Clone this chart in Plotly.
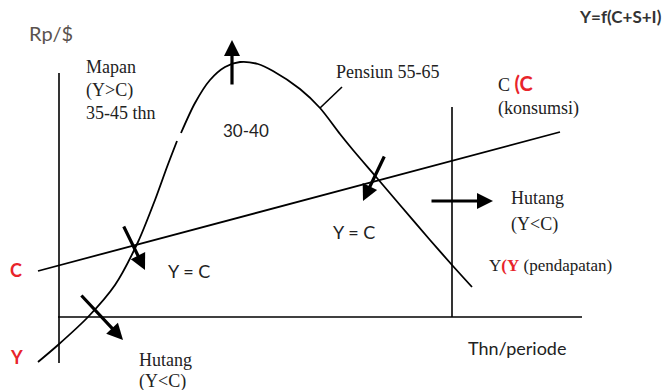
import plotly.graph_objects as go

# Pendapatan (Y) sepanjang siklus hidup, koordinat (px)
income_x = [38, 58, 88, 115, 138, 155, 167, 177, None, 181, 195, 210, 225, 240, 258, 273, 300, 320, 340, 353, 377, 400, 430, 452, 472]
income_y = [362, 345, 317, 285, 242, 200, 167, 141, None, 133, 103, 80, 67, 62, 64, 71, 89, 108, 134, 150, 178, 205, 240, 265, 287]

# Konsumsi (C), garis lurus
cons_x = [38, 560]
cons_y = [271, 132]

# Sumbu dan batas periode
axis_v_x, axis_v_y = [59, 59], [73, 363]
axis_h_x, axis_h_y = [58, 582], [317, 317]
retire_x, retire_y = [452, 452], [107, 317]
leader_x, leader_y = [342, 320], [87, 108]

# Panah (ekor -> ujung)
arrows = [
    ((232, 86), (232, 40)),
    ((123, 225), (145, 270)),
    ((80, 294), (123, 340)),
    ((385, 155), (363, 201)),
    ((430, 201), (493, 201)),
]

SERIF = "Liberation Serif"
SANS = "Lato"

fig = go.Figure()
for xs, ys, w in [(axis_v_x, axis_v_y, 1.6), (axis_h_x, axis_h_y, 1.6), (retire_x, retire_y, 1.6),
                  (cons_x, cons_y, 1.8), (leader_x, leader_y, 1.6)]:
    fig.add_trace(go.Scatter(x=xs, y=ys, mode="lines", line=dict(color="black", width=w),
                             hoverinfo="skip", showlegend=False))
fig.add_trace(go.Scatter(x=income_x, y=income_y, mode="lines",
                         line=dict(color="black", width=1.8, shape="spline", smoothing=0.8),
                         connectgaps=False, hoverinfo="skip", showlegend=False))

for (tx, ty), (hx, hy) in arrows:
    fig.add_annotation(x=hx, y=hy, ax=tx, ay=ty, xref="x", yref="y", axref="x", ayref="y",
                       showarrow=True, arrowhead=2, arrowsize=1, arrowwidth=3.2,
                       arrowcolor="black", text="")

def label(x, y, text, font=SERIF, size=18, color="#222", anchor="left"):
    fig.add_annotation(x=x, y=y, xref="x", yref="y", text=text, showarrow=False,
                       xanchor=anchor, yanchor="middle",
                       font=dict(family=font, size=size, color=color))

label(27, 33, "Rp/$", SANS, 20, "#5a524e")
label(664, 16, "<b>Y=f(C+S+I)</b>", SANS, 17, "#333", anchor="right")
label(84, 67, "Mapan")
label(84, 90, "(Y&gt;C)")
label(84, 113, "35-45 thn")
label(221, 130, "30-40", SANS, 17, "#222")
label(334, 72, "Pensiun 55-65")
label(496, 83, "C <b><span style='color:#e8242b;font-family:Lato;font-size:20px'>(C</span></b>")
label(496, 108, "(konsumsi)")
label(509, 198, "Hutang")
label(509, 224, "(Y&lt;C)")
label(331, 232, "Y = C", SANS, 18, "#222")
label(166, 271, "Y = C", SANS, 18, "#222")
label(487, 265, "Y<b><span style='color:#e8242b'>(Y</span></b> (pendapatan)", size=17)
label(466, 348, "Thn/periode", SANS, 18, "#222")
label(8, 270, "<b>C</b>", SANS, 18, "#e8242b")
label(8, 357, "<b>Y</b>", SANS, 18, "#e8242b")
label(137, 360, "Hutang")
label(137, 381, "(Y&lt;C)")

fig.update_layout(
    width=665, height=390, margin=dict(l=0, r=0, t=0, b=0),
    paper_bgcolor="white", plot_bgcolor="white",
    xaxis=dict(range=[0, 665], visible=False, fixedrange=True),
    yaxis=dict(range=[390, 0], visible=False, fixedrange=True),
)
# buang margin bawaan <body> agar gambar pas dengan jendela
fig.write_html("out.html", config={"displayModeBar": False},
               post_script="document.body.style.margin='0';document.body.style.overflow='hidden';")
